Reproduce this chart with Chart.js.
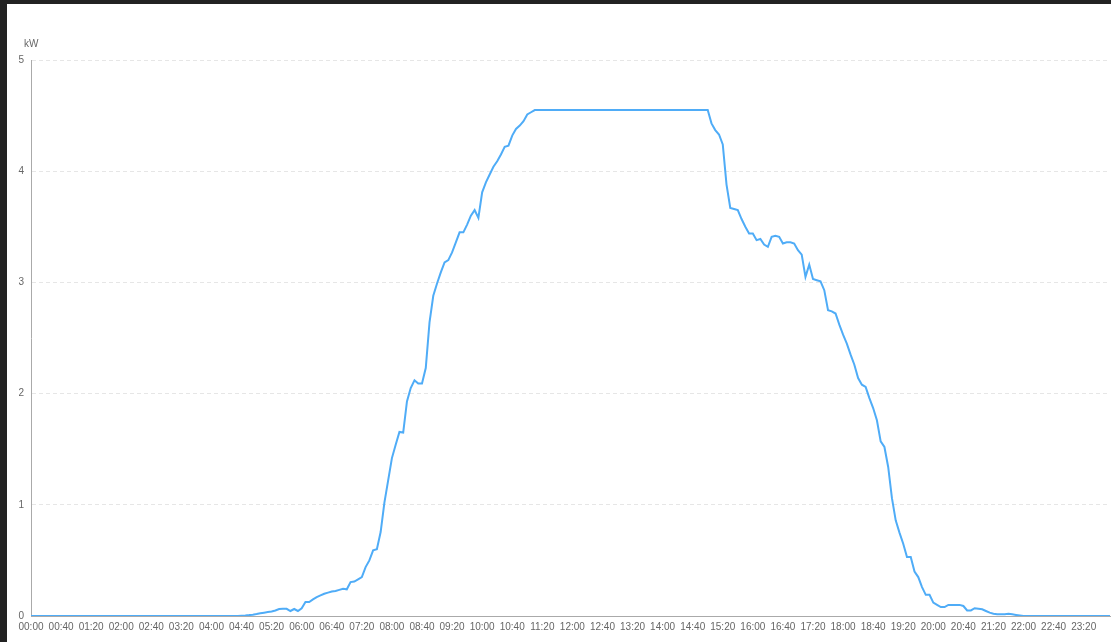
<!DOCTYPE html>
<html>
<head>
<meta charset="utf-8">
<script src="https://cdn.jsdelivr.net/npm/chart.js@4/dist/chart.umd.min.js"></script>
<style>
  html, body { margin: 0; padding: 0; background: #222222; width: 1111px; height: 642px; overflow: hidden; }
  #wrap { position: absolute; left: 7px; top: 4px; width: 1108px; height: 638px; background: #ffffff; }
</style>
</head>
<body>
<div id="wrap"><canvas id="pvChart"></canvas></div>
<script>
// Potencia cada 5 minutos (kW), 00:00 .. 23:55
const power = [
  0,0,0,0,0,0,0,0,0,0,
  0,0,0,0,0,0,0,0,0,0,
  0,0,0,0,0,0,0,0,0,0,
  0,0,0,0,0,0,0,0,0,0,
  0,0,0,0,0,0,0,0,0,0,
  0,0,0,0,0,0,
  0.003,0.005,0.008,0.012,0.018,0.025,0.03,0.035,
  0.04,0.05,0.063,0.065,0.065,0.045,0.063,0.045,0.07,0.126,
  0.126,0.15,0.17,0.185,0.2,0.21,0.22,0.225,0.235,0.245,
  0.24,0.305,0.31,0.33,0.35,0.44,0.5,0.59,0.6,0.755,
  1.02,1.22,1.42,1.54,1.655,1.65,1.93,2.05,2.12,2.09,
  2.09,2.23,2.64,2.88,2.99,3.09,3.18,3.2,3.27,3.36,
  3.45,3.45,3.52,3.6,3.65,3.58,3.81,3.9,3.97,4.04,
  4.09,4.15,4.22,4.23,4.32,4.38,4.41,4.45,4.51,4.53,
  4.55,4.55,4.55,4.55,4.55,4.55,4.55,4.55,4.55,4.55,
  4.55,4.55,4.55,4.55,4.55,4.55,4.55,4.55,4.55,4.55,
  4.55,4.55,4.55,4.55,4.55,4.55,4.55,4.55,4.55,4.55,
  4.55,4.55,4.55,4.55,4.55,4.55,4.55,4.55,4.55,4.55,
  4.55,4.55,4.55,4.55,4.55,4.55,4.55,
  4.43,4.37,4.33,4.24,3.88,3.67,3.66,3.65,3.57,3.5,
  3.44,3.44,3.38,3.39,3.34,3.32,3.41,3.42,3.41,3.35,
  3.36,3.36,3.35,3.29,3.25,3.05,3.16,3.03,3.02,3.01,
  2.93,2.75,2.74,2.72,2.62,2.53,2.45,2.35,2.26,2.14,
  2.08,2.06,1.96,1.87,1.76,1.57,1.52,1.34,1.06,0.86,
  0.75,0.65,0.53,0.53,0.4,0.35,0.26,0.19,0.19,0.12,
  0.1,0.08,0.08,0.1,0.1,0.1,0.1,0.09,0.05,0.05,
  0.07,0.065,0.06,0.045,0.03,0.02,0.015,0.015,0.015,0.02,
  0.015,0.01,0.005,
  0,0,0,0,0,0,0,0,0,0,
  0,0,0,0,0,0,0,0,0,0,
  0,0,0,0
];

// Etiquetas horarias
const times = [];
for (let m = 0; m < 24 * 60; m += 5) {
  times.push(String(Math.floor(m / 60)).padStart(2, '0') + ':' + String(m % 60).padStart(2, '0'));
}
const yTicks = [0, 1, 2, 3, 4, 5];
const unit = 'kW';

const tickColor = '#666666';

// Unidad arriba del eje Y
const unitLabel = {
  id: 'unitLabel',
  afterDraw(chart) {
    const ctx = chart.ctx;
    ctx.save();
    ctx.font = '10px "Liberation Sans", Arial, sans-serif';
    ctx.fillStyle = tickColor;
    ctx.textBaseline = 'middle';
    ctx.textAlign = 'left';
    ctx.fillText(unit, chart.chartArea.left - 7, chart.chartArea.top - 16);
    ctx.restore();
  }
};

new Chart(document.getElementById('pvChart'), {
  type: 'line',
  data: {
    labels: times,
    datasets: [{
      data: power,
      borderColor: '#4facf7',
      borderWidth: 2,
      pointRadius: 0,
      tension: 0,
      fill: false
    }]
  },
  options: {
    responsive: true,
    maintainAspectRatio: false,
    animation: false,
    layout: { padding: { top: 56, right: 0, left: 0, bottom: 0 } },
    plugins: { legend: { display: false }, tooltip: { enabled: false } },
    scales: {
      x: {
        grid: { display: false, drawTicks: false },
        border: { display: true, color: '#aaaaaa', width: 1 },
        ticks: {
          autoSkip: false,
          maxRotation: 0,
          padding: 5,
          color: tickColor,
          font: { size: 10, family: '"Liberation Sans", Arial, sans-serif' },
          callback: (v, i) => (i % 8 === 0 ? times[i] : '')
        },
        afterFit: s => { s.height = 26; }
      },
      y: {
        min: 0,
        max: 5,
        afterBuildTicks: s => { s.ticks = yTicks.map(v => ({ value: v })); },
        grid: { color: '#e6e6e6', drawTicks: false },
        // border.dash = trazo discontinuo de la rejilla
        border: { display: true, color: '#aaaaaa', dash: [4, 3] },
        ticks: {
          padding: 7,
          color: tickColor,
          font: { size: 10, family: '"Liberation Sans", Arial, sans-serif' }
        },
        afterFit: s => { s.width = 24; }
      }
    }
  },
  plugins: [unitLabel]
});
</script>
</body>
</html>
